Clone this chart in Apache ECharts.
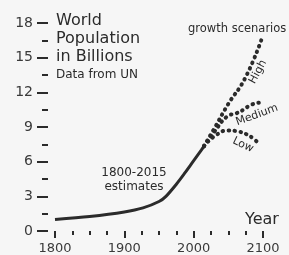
<!DOCTYPE html>
<html>
<head>
<meta charset="UTF-8">
<style>
  html, body { margin: 0; background: #f6f6f6; }
  #chart { width: 289px; height: 255px; }
</style>
</head>
<body>
<div id="chart"></div>
<script src="https://cdn.jsdelivr.net/npm/echarts@6/dist/echarts.min.js"></script>
<script>
// estimates 1800-2015 (billions)
var estYears = [1800, 1850, 1900, 1927, 1950, 1960, 1975, 1987, 1999, 2011, 2015];
var estPop = [1.0, 1.26, 1.65, 2.0, 2.55, 3.0, 4.05, 5.0, 6.0, 7.0, 7.35];

// growth scenarios
var highYears = [2015, 2031, 2050, 2074, 2098];
var highPop = [7.35, 9.0, 11.0, 13.2, 16.6];
var medYears = [2015, 2030, 2048, 2062, 2072, 2082, 2094];
var medPop = [7.35, 8.6, 9.9, 10.2, 10.5, 10.9, 11.1];
var lowYears = [2015, 2030, 2050, 2065, 2077, 2086, 2096];
var lowPop = [7.35, 8.2, 8.7, 8.6, 8.35, 8.0, 7.45];

function pairs(xs, ys) {
    return xs.map(function (x, i) { return [x, ys[i]]; });
}

var chart = echarts.init(document.getElementById('chart'));
var font = 'DejaVu Sans';
var ink = '#2b2b2b';

var dotted = {
    color: ink,
    width: 4,
    type: [0.5, 5.5],
    cap: 'round'
};

chart.setOption({
    backgroundColor: '#f6f6f6',
    animation: false,
    grid: { left: 55, right: 26, top: 23, bottom: 24 },
    xAxis: {
        type: 'value',
        min: 1800, max: 2100, interval: 100,
        axisLine: { show: false },
        axisTick: { show: true, length: 7, lineStyle: { color: ink, width: 2 } },
        minorTick: { show: true, splitNumber: 4, length: 4, lineStyle: { color: ink, width: 2 } },
        splitLine: { show: false },
        axisLabel: {
            fontFamily: font, fontSize: 13, color: '#3a3a3a', margin: 11,
            formatter: function (v) { return String(v); }
        }
    },
    yAxis: {
        type: 'value',
        min: 0, max: 18, interval: 3,
        offset: 7,
        axisLine: { show: false },
        axisTick: { show: true, length: 11, lineStyle: { color: ink, width: 2 } },
        minorTick: { show: true, splitNumber: 2, length: 6, lineStyle: { color: ink, width: 2 } },
        splitLine: { show: false },
        axisLabel: { fontFamily: font, fontSize: 14, color: '#3a3a3a', margin: 15 }
    },
    series: [
        {
            type: 'line', showSymbol: false, smooth: 0.3,
            data: pairs(estYears, estPop),
            lineStyle: { color: ink, width: 3 }
        },
        {
            type: 'line', showSymbol: false, smooth: true,
            data: pairs(highYears, highPop), lineStyle: dotted
        },
        {
            type: 'line', showSymbol: false, smooth: true,
            data: pairs(medYears, medPop), lineStyle: dotted
        },
        {
            type: 'line', showSymbol: false, smooth: true,
            data: pairs(lowYears, lowPop), lineStyle: dotted
        }
    ],
    graphic: [
        { type: 'text', left: 56, top: 13, style: { text: 'World', font: '16px ' + font, fill: ink } },
        { type: 'text', left: 56, top: 31, style: { text: 'Population', font: '16px ' + font, fill: ink } },
        { type: 'text', left: 56, top: 49, style: { text: 'in Billions', font: '16px ' + font, fill: ink } },
        { type: 'text', left: 56, top: 69, style: { text: 'Data from UN', font: '12px ' + font, fill: ink } },
        { type: 'text', left: 188, top: 23, style: { text: 'growth scenarios', font: '11.5px ' + font, fill: ink } },
        { type: 'text', x: 258, y: 72, rotation: 1.08,
          style: { text: 'High', font: '11px ' + font, fill: ink, align: 'center', verticalAlign: 'middle' } },
        { type: 'text', x: 257, y: 115, rotation: 0.35,
          style: { text: 'Medium', font: '11px ' + font, fill: ink, align: 'center', verticalAlign: 'middle' } },
        { type: 'text', x: 243, y: 145, rotation: -0.45,
          style: { text: 'Low', font: '11px ' + font, fill: ink, align: 'center', verticalAlign: 'middle' } },
        { type: 'text', x: 134, y: 173,
          style: { text: '1800-2015', font: '12px ' + font, fill: ink, align: 'center', verticalAlign: 'middle' } },
        { type: 'text', x: 134, y: 187,
          style: { text: 'estimates', font: '12px ' + font, fill: ink, align: 'center', verticalAlign: 'middle' } },
        { type: 'text', x: 262, y: 220,
          style: { text: 'Year', font: '16px ' + font, fill: ink, align: 'center', verticalAlign: 'middle' } }
    ]
});
</script>
</body>
</html>
